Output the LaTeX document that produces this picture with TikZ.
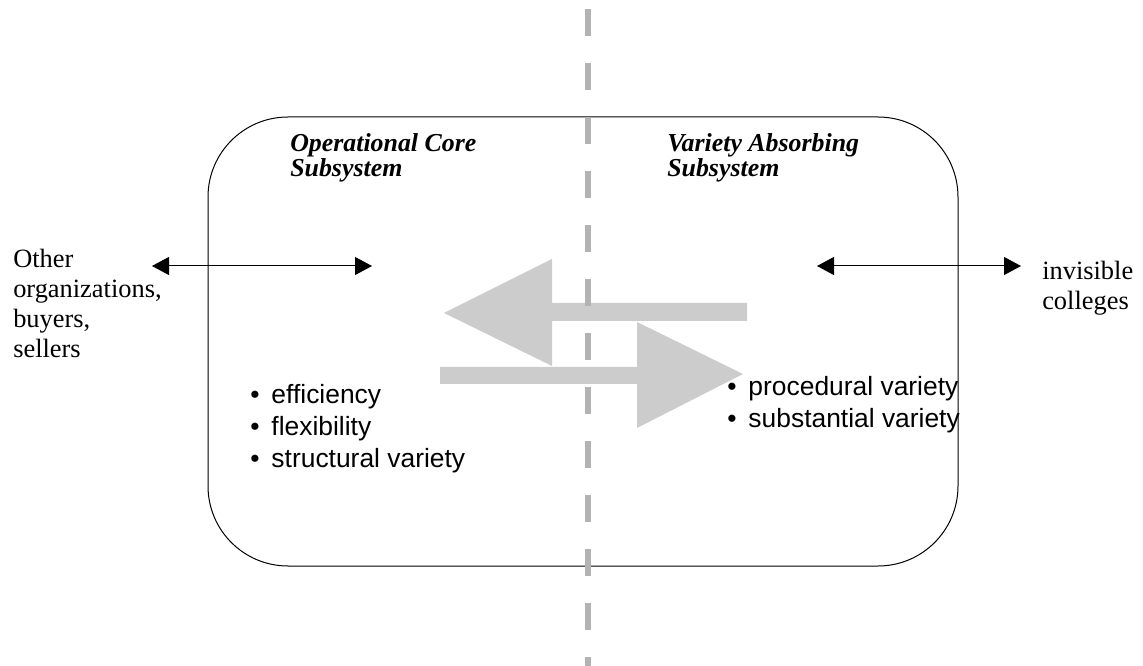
\documentclass[tikz,border=0pt]{standalone}
\usepackage{fontspec}
\setmainfont{Liberation Serif}
\setsansfont{Liberation Sans}
\usepackage{tikz}
\usetikzlibrary{arrows.meta}
\definecolor{splitGrey}{HTML}{B3B3B3}
\definecolor{flowGrey}{HTML}{CCCCCC}

\begin{document}
\begin{tikzpicture}[
  x=0.75pt,y=-0.75pt,
  label/.style={inner sep=0pt,anchor=base west,align=left,font=\fontsize{19.8}{22.5}\selectfont},
  title/.style={inner sep=0pt,anchor=base west,align=left,font=\fontsize{19.4}{18.75}\selectfont\bfseries\itshape},
  items/.style={inner sep=0pt,anchor=base west,align=left,font=\sffamily\fontsize{19.8}{24}\selectfont},
  link/.style={{Triangle[length=12.75pt,width=13.5pt]}-{Triangle[length=12.75pt,width=13.5pt]},line width=0.75pt},
  flow/.style={fill=flowGrey},
  split/.style={draw=splitGrey,line width=4.5pt,dash pattern=on 20.25pt off 20.25pt}
]
  \useasboundingbox (0,0) rectangle (1143,666);
  \node[draw,line width=0.75pt,inner sep=0pt,minimum width=562.5pt,minimum height=336.75pt,rounded corners=60pt] (system) at (583,341.5) {};
  \node[title] (core) at (290,177) {Operational Core\\Subsystem};
  \node[title] (absorb) at (667,177) {Variety Absorbing\\Subsystem};
  \node[label] (others) at (13,358) {Other\\organizations,\\buyers,\\sellers};
  \node[label] (colleges) at (1042,310) {invisible\\colleges};
  \coordinate (outL) at (152,266);
  \coordinate (inL) at (372,266);
  \coordinate (inR) at (817,266);
  \coordinate (outR) at (1021,266);
  \draw[link] (outL) -- (inL);
  \draw[link] (inR) -- (outR);
  \fill[flow] (444,313) -- (552,259) -- (552,303) -- (747,303) -- (747,321) -- (552,321) -- (552,366) -- cycle;
  \fill[flow] (743,374) -- (637,322) -- (637,367) -- (440,367) -- (440,384) -- (637,384) -- (637,428) -- cycle;
  \node[items] (coreList) at (250,468) {\textbullet\hspace{9pt}efficiency\\\textbullet\hspace{9pt}flexibility\\\textbullet\hspace{9pt}structural variety};
  \node[items] (absorbList) at (727,428) {\textbullet\hspace{9pt}procedural variety\\\textbullet\hspace{9pt}substantial variety};
  \draw[split] (588,9) -- (588,672);
\end{tikzpicture}
\end{document}
